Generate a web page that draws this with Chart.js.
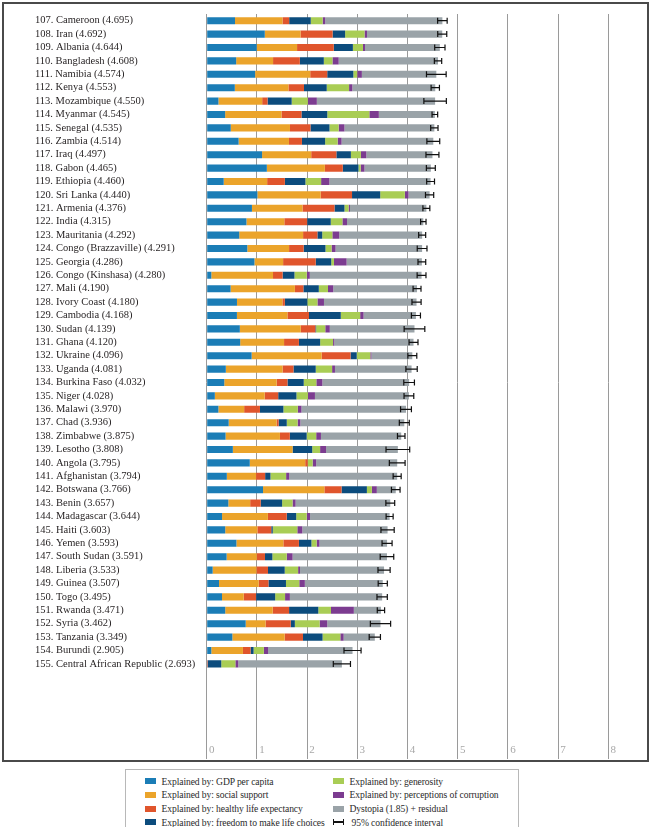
<!DOCTYPE html>
<html>
<head>
<meta charset="utf-8">
<script src="https://cdn.jsdelivr.net/npm/chart.js@4/dist/chart.umd.min.js"></script>
<style>
  html,body{margin:0;padding:0;background:#fff;}
  body{width:651px;height:827px;overflow:hidden;position:relative;font-family:"Liberation Serif","DejaVu Serif",serif;}
  #frame{position:absolute;left:2px;top:2px;width:643px;height:756px;border:2px solid #4a4a4a;}
  #wrap{position:absolute;left:0;top:0;width:643px;height:756px;}
  #legend{position:absolute;left:125px;top:769px;width:394px;height:70px;border:1.5px solid #b8b8b8;box-sizing:border-box;}
  .li{position:absolute;height:14px;line-height:14px;font-size:9.6px;letter-spacing:-0.1px;color:#2a2a2a;white-space:nowrap;}
  .sw{display:inline-block;width:11px;height:6px;vertical-align:middle;margin-right:6px;position:relative;top:-1px;}
  .ci{display:inline-block;width:9px;height:6px;vertical-align:middle;margin-right:8px;position:relative;top:-1px;
      border-left:1.2px solid #111;border-right:1.2px solid #111;
      background:linear-gradient(to bottom,transparent 2.4px,#111 2.4px,#111 3.6px,transparent 3.6px);}
</style>
</head>
<body>
<div id="frame"><div id="wrap"><canvas id="c"></canvas></div></div>
<div id="legend"></div>
<script>
// ---- data (World Happiness ranks 107-155) ----
const firstRank = 107;
const countries = ["Cameroon","Iran","Albania","Bangladesh","Namibia","Kenya","Mozambique","Myanmar","Senegal","Zambia",
  "Iraq","Gabon","Ethiopia","Sri Lanka","Armenia","India","Mauritania","Congo (Brazzaville)","Georgia","Congo (Kinshasa)",
  "Mali","Ivory Coast","Cambodia","Sudan","Ghana","Ukraine","Uganda","Burkina Faso","Niger","Malawi",
  "Chad","Zimbabwe","Lesotho","Angola","Afghanistan","Botswana","Benin","Madagascar","Haiti","Yemen",
  "South Sudan","Liberia","Guinea","Togo","Rwanda","Syria","Tanzania","Burundi","Central African Republic"];
const scores = ["4.695","4.692","4.644","4.608","4.574","4.553","4.550","4.545","4.535","4.514",
  "4.497","4.465","4.460","4.440","4.376","4.315","4.292","4.291","4.286","4.280",
  "4.190","4.180","4.168","4.139","4.120","4.096","4.081","4.032","4.028","3.970",
  "3.936","3.875","3.808","3.795","3.794","3.766","3.657","3.644","3.603","3.593",
  "3.591","3.533","3.507","3.495","3.471","3.462","3.349","2.905","2.693"];
const gdp = [0.564,1.157,0.996,0.587,0.964,0.560,0.234,0.367,0.479,0.636,
  1.103,1.198,0.339,1.010,0.901,0.792,0.648,0.809,0.951,0.092,
  0.476,0.603,0.602,0.660,0.667,0.895,0.381,0.350,0.162,0.233,
  0.438,0.376,0.521,0.858,0.401,1.122,0.431,0.306,0.369,0.592,
  0.397,0.119,0.245,0.305,0.369,0.777,0.511,0.092,0.000];
const social = [0.946,0.712,0.804,0.735,1.098,1.068,0.871,1.123,1.180,1.003,
  0.979,1.156,0.865,1.260,1.007,0.754,1.272,0.832,0.571,1.229,
  1.281,0.905,1.006,1.214,0.874,1.395,1.130,1.043,0.993,0.513,
  0.954,1.083,1.190,1.104,0.582,1.222,0.435,0.913,0.640,0.935,
  0.601,0.872,0.791,0.432,0.946,0.396,1.042,0.630,0.000];
const health = [0.133,0.639,0.731,0.533,0.339,0.310,0.107,0.398,0.409,0.258,
  0.501,0.357,0.353,0.625,0.638,0.455,0.285,0.290,0.650,0.191,
  0.169,0.049,0.430,0.291,0.296,0.576,0.218,0.216,0.269,0.315,
  0.041,0.197,0.000,0.050,0.181,0.342,0.210,0.375,0.277,0.310,
  0.163,0.230,0.194,0.247,0.326,0.501,0.365,0.152,0.019];
const freedom = [0.430,0.249,0.381,0.478,0.520,0.453,0.481,0.514,0.378,0.462,
  0.289,0.312,0.409,0.561,0.198,0.470,0.096,0.435,0.309,0.236,
  0.307,0.448,0.633,0.015,0.423,0.123,0.443,0.324,0.364,0.467,
  0.162,0.336,0.391,0.000,0.106,0.505,0.426,0.189,0.030,0.249,
  0.147,0.333,0.349,0.380,0.582,0.082,0.390,0.060,0.271];
const generosity = [0.236,0.387,0.201,0.172,0.077,0.445,0.322,0.838,0.183,0.250,
  0.200,0.044,0.313,0.491,0.083,0.232,0.202,0.121,0.054,0.246,
  0.183,0.201,0.386,0.182,0.257,0.270,0.326,0.251,0.229,0.287,
  0.216,0.189,0.157,0.098,0.312,0.099,0.208,0.209,0.489,0.104,
  0.286,0.267,0.265,0.197,0.253,0.494,0.354,0.204,0.281];
const corruption = [0.051,0.049,0.040,0.124,0.093,0.065,0.179,0.189,0.115,0.078,
  0.107,0.076,0.165,0.073,0.027,0.092,0.137,0.080,0.252,0.060,
  0.105,0.130,0.068,0.090,0.025,0.023,0.057,0.120,0.139,0.073,
  0.054,0.095,0.119,0.070,0.061,0.099,0.061,0.067,0.100,0.057,
  0.117,0.039,0.111,0.096,0.455,0.151,0.066,0.084,0.057];
const dystopia = [2.335,1.499,1.491,1.979,1.483,1.652,2.356,1.116,1.791,1.827,
  1.318,1.322,2.016,0.420,1.522,1.520,1.652,1.724,1.499,2.226,
  1.669,1.844,1.043,1.687,1.578,0.814,1.526,1.728,1.872,2.082,
  2.071,1.599,1.430,1.615,2.151,0.377,1.886,1.585,1.698,1.346,
  1.880,1.673,1.552,1.838,0.540,1.061,0.621,1.683,2.065];
const ciLow = [4.600,4.602,4.542,4.535,4.378,4.470,4.326,4.489,4.462,4.386,
  4.368,4.376,4.382,4.358,4.307,4.261,4.222,4.194,4.209,4.192,
  4.111,4.089,4.078,3.933,4.031,4.007,3.968,3.926,3.931,3.862,
  3.837,3.800,3.572,3.638,3.714,3.680,3.569,3.574,3.471,3.493,
  3.456,3.412,3.416,3.392,3.398,3.260,3.237,2.735,2.522];
const ciHigh = [4.790,4.782,4.747,4.681,4.770,4.636,4.774,4.601,4.608,4.642,
  4.626,4.554,4.538,4.522,4.445,4.369,4.362,4.388,4.363,4.368,
  4.269,4.271,4.258,4.345,4.209,4.185,4.194,4.138,4.125,4.078,
  4.035,3.950,4.044,3.952,3.874,3.852,3.745,3.714,3.735,3.693,
  3.726,3.654,3.598,3.598,3.544,3.664,3.461,3.075,2.864];
const xTicks = [0,1,2,3,4,5,6,7,8];
const seriesNames = ["Explained by: GDP per capita","Explained by: social support","Explained by: healthy life expectancy",
  "Explained by: freedom to make life choices","Explained by: generosity","Explained by: perceptions of corruption",
  "Dystopia (1.85) + residual"];
const seriesColors = ["#1b7db6","#eba42b","#e0552c","#0c4c7d","#a9cd55","#7c3c90","#9aa3a8"];
const ciLabel = "95% confidence interval";
const emptyRows = 6; // blank space below the last country

// ---- build ----
const labels = countries.map((c,i)=> (firstRank+i) + ". " + c + " (" + scores[i] + ")");
for (let k=0;k<emptyRows;k++) labels.push("");
const seriesData = [gdp, social, health, freedom, generosity, corruption, dystopia];

const datasets = seriesData.map((d,j)=>({
  label: seriesNames[j],
  data: d,
  backgroundColor: seriesColors[j],
  borderWidth: 0,
  barPercentage: 0.53,
  categoryPercentage: 1.0
}));

const errorBars = {
  id:'errorBars',
  afterDatasetsDraw(chart){
    const ctx = chart.ctx, xs = chart.scales.x, ys = chart.scales.y;
    ctx.save();
    ctx.strokeStyle = '#111';
    ctx.lineWidth = 1.2;
    for (let i=0;i<ciLow.length;i++){
      const y = ys.getPixelForValue(i);
      const x1 = xs.getPixelForValue(ciLow[i]);
      const x2 = xs.getPixelForValue(ciHigh[i]);
      ctx.beginPath();
      ctx.moveTo(x1,y); ctx.lineTo(x2,y);
      ctx.moveTo(x1,y-3); ctx.lineTo(x1,y+3);
      ctx.moveTo(x2,y-3); ctx.lineTo(x2,y+3);
      ctx.stroke();
    }
    ctx.restore();
  }
};

const chart = new Chart(document.getElementById('c'), {
  type:'bar',
  data:{labels, datasets},
  options:{
    indexAxis:'y',
    responsive:true,
    maintainAspectRatio:false,
    animation:false,
    layout:{padding:{left:31,right:38.7,top:10,bottom:9}},
    plugins:{legend:{display:false},tooltip:{enabled:false}},
    scales:{
      x:{
        type:'linear', stacked:true, min:0, max:8,
        afterBuildTicks(s){ s.ticks = xTicks.map(v=>({value:v})); },
        grid:{color:'#9a9a9a',lineWidth:1,drawTicks:true,tickLength:8},
        border:{display:false},
        ticks:{mirror:true,padding:-6,labelOffset:5,color:'#a8a8a8',
          font:{family:'"Liberation Serif", serif',size:11}}
      },
      y:{
        type:'category', stacked:true,
        afterFit(s){ s.width = 171.7; },
        grid:{display:false},
        border:{display:false},
        ticks:{autoSkip:false,crossAlign:'far',color:'#231f20',padding:0,
          font:{family:'"Liberation Serif", serif',size:10.5}}
      }
    }
  },
  plugins:[errorBars]
});

// ---- HTML legend (from the chart's datasets) ----
const lg = document.getElementById('legend');
const items = chart.data.datasets.map(ds=>({text:ds.label,color:ds.backgroundColor}));
items.push({text:ciLabel,ci:true});
items.forEach((it,k)=>{
  const col = k<4?0:1, row = k%4;
  const el = document.createElement('div');
  el.className='li';
  el.style.left = (col===0?18.5:206.5)+'px';
  el.style.top = (4.5+row*13.7)+'px';
  const mark = document.createElement('span');
  if (it.ci){ mark.className='ci'; } else { mark.className='sw'; mark.style.background=it.color; }
  el.appendChild(mark);
  el.appendChild(document.createTextNode(it.text));
  lg.appendChild(el);
});
</script>
</body>
</html>
